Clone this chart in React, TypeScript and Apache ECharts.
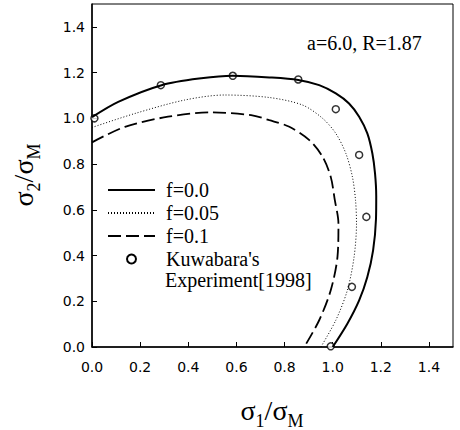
import React, { useEffect, useRef } from 'react';
import * as echarts from 'echarts';

// Yield curves, [sigma1/sigmaM, sigma2/sigmaM]
const curveF000: [number, number][] = [
  [0.0, 1.005], [0.109, 1.072], [0.289, 1.145], [0.454, 1.175], [0.585, 1.186],
  [0.737, 1.179], [0.857, 1.168], [0.944, 1.145], [1.013, 1.109], [1.068, 1.065],
  [1.11, 1.007], [1.144, 0.934], [1.165, 0.846], [1.176, 0.759], [1.181, 0.66],
  [1.18, 0.56], [1.168, 0.423], [1.144, 0.306], [1.11, 0.204], [1.061, 0.102], [1.0, 0.0],
];
const curveF005: [number, number][] = [
  [0.0, 0.96], [0.178, 1.021], [0.385, 1.08], [0.551, 1.102], [0.737, 1.091],
  [0.875, 1.058], [0.958, 1.0], [1.013, 0.934], [1.055, 0.846], [1.082, 0.744],
  [1.095, 0.642], [1.099, 0.54], [1.089, 0.394], [1.061, 0.248], [1.013, 0.117], [0.951, 0.0],
];
const curveF010: [number, number][] = [
  [0.0, 0.895], [0.137, 0.963], [0.316, 1.007], [0.496, 1.026], [0.661, 1.014],
  [0.737, 0.992], [0.82, 0.963], [0.903, 0.905], [0.958, 0.832], [0.992, 0.744],
  [1.009, 0.642], [1.024, 0.54], [1.02, 0.394], [0.992, 0.248], [0.944, 0.117], [0.882, 0.0],
];
const experiment: [number, number][] = [
  [0.01, 1.0], [0.286, 1.145], [0.585, 1.186], [0.857, 1.17], [1.013, 1.04],
  [1.11, 0.84], [1.14, 0.569], [1.08, 0.263], [0.992, 0.003],
];
const seriesNames = ['f=0.0', 'f=0.05', 'f=0.1', "Kuwabara's Experiment[1998]"];
const expLegendLines = ["Kuwabara's", 'Experiment[1998]'];
const annotation = 'a=6.0, R=1.87';
const xName = '{s|σ}{b|1}{s|/σ}{b|M}';
const yName = '{s|σ}{b|2}{s|/σ}{b|M}';

export default function App() {
  const ref = useRef<HTMLDivElement>(null);
  useEffect(() => {
    const chart = echarts.init(ref.current!, null, { renderer: 'svg' });
    const serif = 'Liberation Serif';
    const sans = 'DejaVu Sans';
    const nameRich: any = {
      s: { fontSize: 28, lineHeight: 40, fontFamily: serif, fill: '#000', color: '#000' },
      b: { fontSize: 18, lineHeight: 20, verticalAlign: 'bottom', fontFamily: serif, fill: '#000', color: '#000' },
    };
    const axisCommon = (margin: number) => ({
      type: 'value',
      min: 0,
      max: 1.5,
      interval: 0.2,
      axisLine: { onZero: false, lineStyle: { color: '#000', width: 1.5 } },
      axisTick: { inside: true, length: 5, lineStyle: { color: '#000', width: 1 } },
      axisLabel: {
        showMaxLabel: false,
        margin,
        fontSize: 14,
        fontFamily: sans,
        color: '#000',
        formatter: (v: number) => v.toFixed(1),
      },
      splitLine: { show: false },
    });
    chart.setOption({
      animation: false,
      backgroundColor: '#fff',
      grid: { left: 92, right: 7, top: 4, bottom: 83, show: true, borderColor: '#000', borderWidth: 1 },
      xAxis: axisCommon(13),
      yAxis: axisCommon(7),
      title: {
        text: annotation,
        left: 307,
        top: 33,
        padding: 0,
        textStyle: { fontFamily: serif, fontSize: 20, fontWeight: 'normal', color: '#000', lineHeight: 20 },
      },
      legend: {
        data: [
          { name: seriesNames[0] },
          { name: seriesNames[1] },
          { name: seriesNames[2] },
          { name: seriesNames[3], icon: 'circle', itemStyle: { opacity: 1 } },
        ],
        orient: 'vertical',
        left: 107,
        top: 178.5,
        padding: 0,
        itemGap: 0,
        itemWidth: 47,
        itemHeight: 9,
        selectedMode: false,
        itemStyle: { opacity: 0 },
        formatter: (n: string) => (n === seriesNames[3] ? expLegendLines[0] : n),
        textStyle: { fontFamily: serif, fontSize: 20, color: '#000', lineHeight: 23, padding: [0, 0, 0, 6] },
      },
      graphic: [
        {
          type: 'text',
          left: 165,
          top: 270,
          style: { text: expLegendLines[1], fontFamily: serif, fontSize: 20, fill: '#000' },
        },
        {
          type: 'text',
          x: 272,
          y: 410,
          style: { text: xName, rich: nameRich, align: 'center', verticalAlign: 'middle' },
        },
        {
          type: 'text',
          x: 23,
          y: 175,
          rotation: Math.PI / 2,
          style: { text: yName, rich: nameRich, align: 'center', verticalAlign: 'middle' },
        },
      ],
      series: [
        {
          name: seriesNames[0], type: 'line', data: curveF000, symbol: 'none', smooth: 0.3,
          lineStyle: { color: '#000', width: 2, type: 'solid' }, itemStyle: { color: '#000' },
          emphasis: { disabled: true },
        },
        {
          name: seriesNames[1], type: 'line', data: curveF005, symbol: 'none', smooth: 0.3,
          lineStyle: { color: '#000', width: 1, type: [1, 2] }, itemStyle: { color: '#000' },
          emphasis: { disabled: true },
        },
        {
          name: seriesNames[2], type: 'line', data: curveF010, symbol: 'none', smooth: 0.3,
          lineStyle: { color: '#000', width: 1.8, type: [13, 5] }, itemStyle: { color: '#000' },
          emphasis: { disabled: true },
        },
        {
          name: seriesNames[3], type: 'scatter', data: experiment, symbol: 'circle', symbolSize: 7,
          itemStyle: { color: '#fff', borderColor: '#000', borderWidth: 1.5 },
          emphasis: { disabled: true },
        },
      ],
    });
    return () => chart.dispose();
  }, []);
  return <div ref={ref} style={{ position: 'absolute', left: 0, top: 0, width: 460, height: 430 }} />;
}
